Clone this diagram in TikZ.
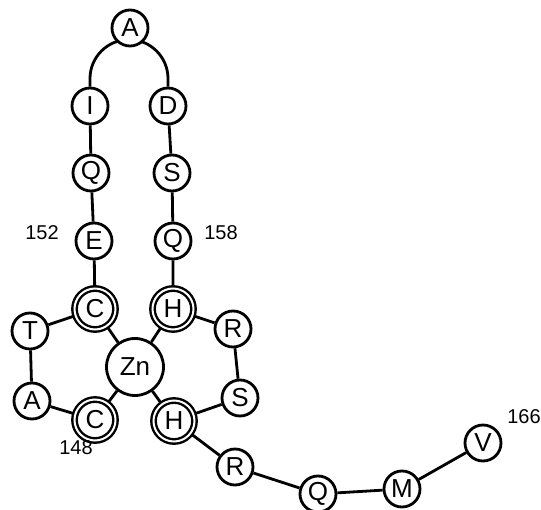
\documentclass[tikz,border=0pt]{standalone}
\usepackage{fontspec}
\setmainfont{Liberation Sans}
\usetikzlibrary{positioning}
\pgfdeclarelayer{bg}
\pgfsetlayers{bg,main}
\tikzset{
  res/.style={circle,draw,line width=2.8pt,fill=white,minimum size=36pt,inner sep=0pt,
    font=\fontsize{26}{26}\selectfont},
  lig/.style={res,double=white,double distance=2pt,line width=2.4pt,minimum size=41pt},
  bond/.style={line width=2.8pt},
  num/.style={font=\fontsize{20}{20}\selectfont}
}
\begin{document}
\begin{tikzpicture}[x=1pt,y=-1pt]
      \useasboundingbox (0,0) rectangle (541,510);

      \node[res] (A1) at (130,28) {A};
      \node[res] (I) at (90,106) {I};
      \node[res] (D) at (168,106) {D};
      \node[res] (Q1) at (91,173) {Q};
      \node[res] (S1) at (172,173) {S};
      \node[res] (E) at (94,241) {E};
      \node[res] (Q2) at (173,241) {Q};
      \node[lig] (C1) at (95,309) {C};
      \node[lig] (H1) at (173,309) {H};
      \node[res] (T) at (30,331) {T};
      \node[res] (R1) at (233,329) {R};
      \node[res,minimum size=57pt] (Zn) at (135,367) {Zn};
      \node[res] (A2) at (32,401) {A};
      \node[res] (S2) at (240,398) {S};
      \node[lig] (C2) at (95,420) {C};
      \node[lig] (H2) at (174,421) {H};
      \node[res] (R2) at (235,467) {R};
      \node[res] (Q3) at (318,494) {Q};
      \node[res] (M) at (402,489) {M};
      \node[res] (V) at (483,443) {V};

      \node[num] (n152) at (42,233) {152};
      \node[num] (n158) at (221,233) {158};
      \node[num] (n148) at (76,448) {148};
      \node[num] (n166) at (524,417) {166};

      \begin{pgfonlayer}{bg}
        \draw[bond] (I.north) -- ++(0,-8) arc[start angle=180,end angle=360,radius=39] -- (D.north);
        \draw[bond] (I) -- (Q1) -- (E) -- (C1) -- (T) -- (A2) -- (C2);
        \draw[bond] (D) -- (S1) -- (Q2) -- (H1) -- (R1) -- (S2) -- (H2);
        \draw[bond] (H2) -- (R2) -- (Q3) -- (M) -- (V);
        \draw[bond] (C1) -- (Zn) (H1) -- (Zn) (C2) -- (Zn) (H2) -- (Zn);
      \end{pgfonlayer}
    \end{tikzpicture}
\end{document}
